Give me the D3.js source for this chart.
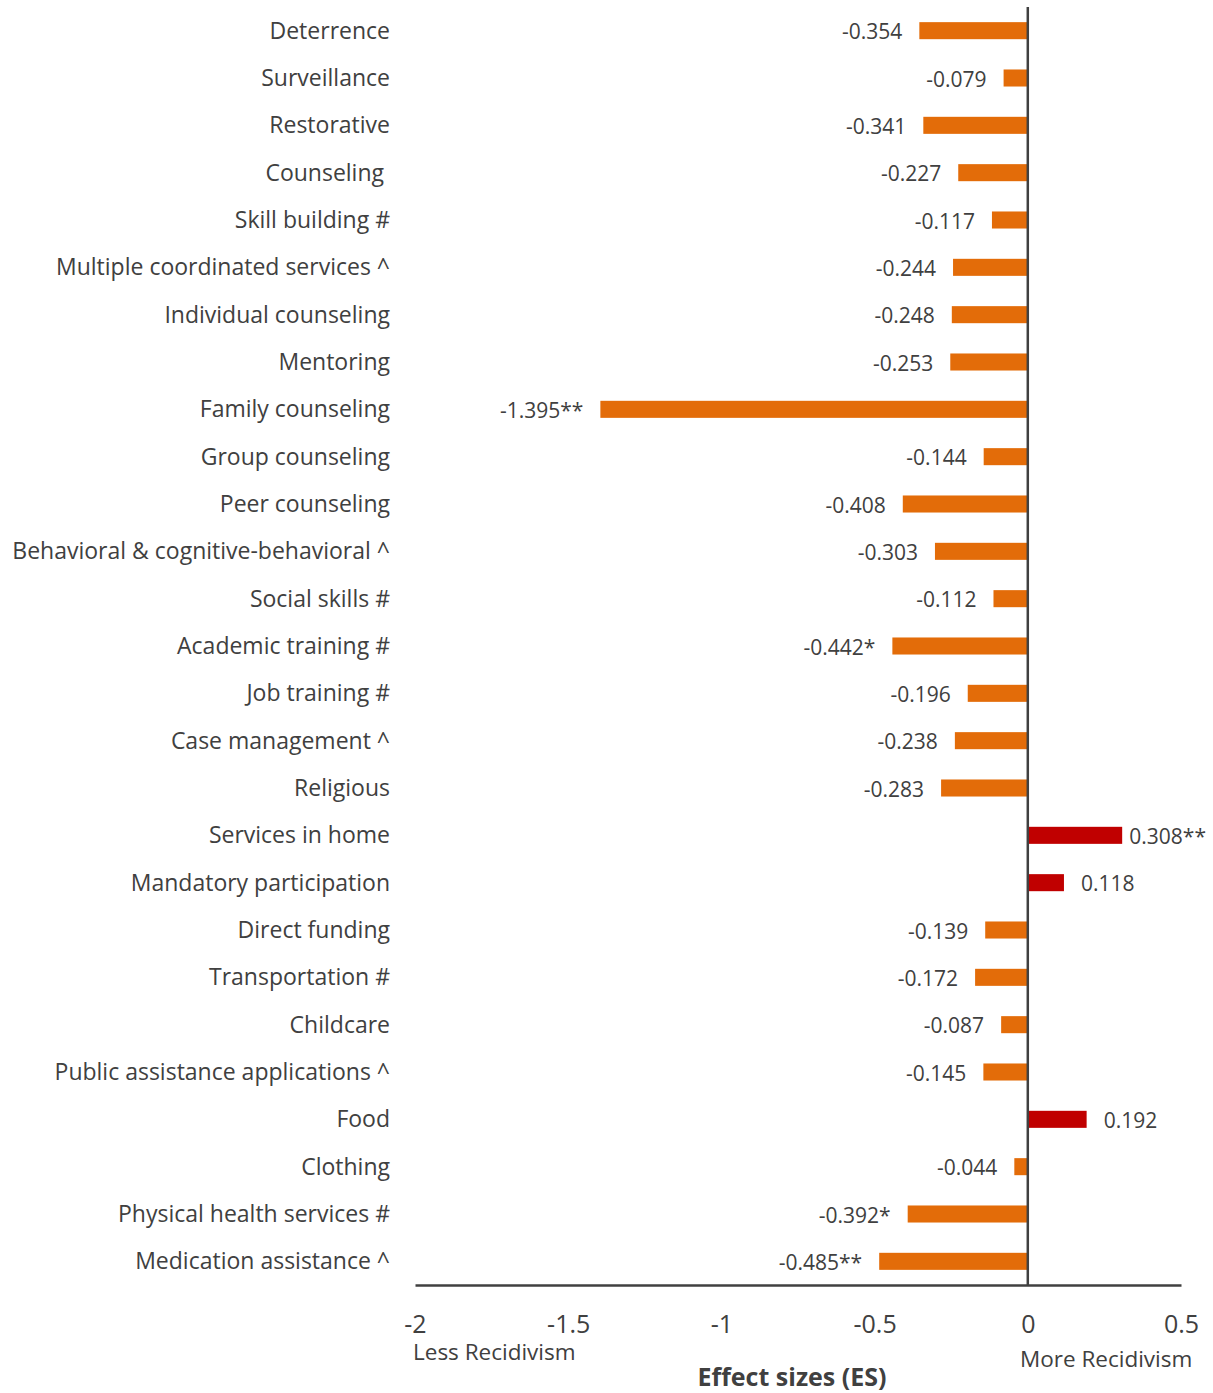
<!DOCTYPE html>
<html>
<head>
	<meta charset="utf-8">
	<title>effect sizes with d3</title>
	<style>
		body { margin: 0; background: #fff; }
		text { font-family: "Open Sans", "Noto Sans", sans-serif; fill: #404040; }
	</style>
</head>
<body>
<div class="svg-bars"></div>
<script src="https://cdn.jsdelivr.net/npm/d3@7"></script>
<script>
	// original data
	let categories = [
		"Deterrence", "Surveillance", "Restorative", "Counseling ", "Skill building #",
		"Multiple coordinated services ^", "Individual counseling", "Mentoring",
		"Family counseling", "Group counseling", "Peer counseling",
		"Behavioral & cognitive-behavioral ^", "Social skills #", "Academic training #",
		"Job training #", "Case management ^", "Religious", "Services in home",
		"Mandatory participation", "Direct funding", "Transportation #", "Childcare",
		"Public assistance applications ^", "Food", "Clothing",
		"Physical health services #", "Medication assistance ^"
	];
	let effects = [
		-0.354, -0.079, -0.341, -0.227, -0.117, -0.244, -0.248, -0.253, -1.395,
		-0.144, -0.408, -0.303, -0.112, -0.442, -0.196, -0.238, -0.283, 0.308,
		0.118, -0.139, -0.172, -0.087, -0.145, 0.192, -0.044, -0.392, -0.485
	];
	let stars = [
		"", "", "", "", "", "", "", "", "**", "", "", "", "", "*", "", "", "",
		"**", "", "", "", "", "", "", "", "*", "**"
	];
	let ticks = [-2, -1.5, -1, -0.5, 0, 0.5];

	window.onload = function(){
		showBars();
	}

	// plain hyphen instead of the unicode minus d3 uses
	function fmt(v, f){
		return d3.format(f)(v).replace("\u2212", "-");
	}

	function showBars(){
		let width = 1213;
		let height = 1393;
		let plot = {"left": 415, "right": 1181, "top": 7, "bottom": 1285};

		let rows = categories.map((c, i) => ({"name": c, "value": effects[i], "star": stars[i]}));

		let svg = d3.select(".svg-bars").append("svg")
			.attr("width", width)
			.attr("height", height);

		// scale
		let scaleX = d3.scaleLinear()
			.domain([-2, 0.5])
			.range([plot.left, plot.right]);
		let scaleY = d3.scaleBand()
			.domain(categories)
			.range([plot.top, plot.bottom])
			.paddingInner(0.64)
			.paddingOuter(0.32);

		// bars
		svg.selectAll("rect.bar")
			.data(rows)
			.enter()
			.append("rect")
			.attr("class", "bar")
			.attr("x", d => scaleX(Math.min(0, d.value)))
			.attr("width", d => Math.abs(scaleX(d.value) - scaleX(0)))
			.attr("y", d => scaleY(d.name))
			.attr("height", scaleY.bandwidth())
			.attr("fill", d => d.value < 0 ? "#E36C09" : "#C00000");

		// value labels
		svg.selectAll("text.value")
			.data(rows)
			.enter()
			.append("text")
			.attr("class", "value")
			.attr("font-size", "21px")
			.attr("y", d => scaleY(d.name) + scaleY.bandwidth() / 2)
			.attr("dy", "0.42em")
			.text(d => fmt(d.value, ".3f") + d.star)
			.each(function(d){
				let w = this.getComputedTextLength();
				let x = d.value < 0 ? scaleX(d.value) - 17 - w : scaleX(d.value) + 17;
				x = Math.min(x, 1206 - w);
				d3.select(this).attr("x", x);
			});

		// category labels
		svg.selectAll("text.cat")
			.data(rows)
			.enter()
			.append("text")
			.attr("class", "cat")
			.attr("font-size", "23px")
			.attr("text-anchor", "end")
			.style("white-space", "pre")
			.attr("x", 390)
			.attr("y", d => scaleY(d.name) + scaleY.bandwidth() / 2)
			.attr("dy", "0.35em")
			.text(d => d.name);

		// axis
		let axisX = d3.axisBottom(scaleX)
			.tickValues(ticks)
			.tickSize(0)
			.tickPadding(30)
			.tickFormat(d => fmt(d, ""));
		let gx = svg.append("g")
			.attr("class", "axis axis-x")
			.attr("transform", "translate(0, " + plot.bottom + ")")
			.call(axisX);
		gx.select(".domain").attr("stroke", "#404040").attr("stroke-width", 2.5);
		gx.selectAll(".tick text")
			.attr("font-size", "25px")
			.attr("font-family", "\"Open Sans\", sans-serif")
			.attr("fill", "#404040");

		// zero line
		svg.append("line")
			.attr("x1", scaleX(0)).attr("x2", scaleX(0))
			.attr("y1", plot.top).attr("y2", plot.bottom)
			.attr("stroke", "#404040")
			.attr("stroke-width", 2.5);

		// axis notes
		svg.append("text")
			.attr("x", 413).attr("y", 1360)
			.attr("font-size", "22.5px")
			.text("Less Recidivism");
		svg.append("text")
			.attr("x", 1020).attr("y", 1367)
			.attr("font-size", "22.5px")
			.text("More Recidivism");
		svg.append("text")
			.attr("x", 792).attr("y", 1386)
			.attr("text-anchor", "middle")
			.attr("font-size", "25px")
			.attr("font-weight", "bold")
			.text("Effect sizes (ES)");
	}
</script>
</body>
</html>
